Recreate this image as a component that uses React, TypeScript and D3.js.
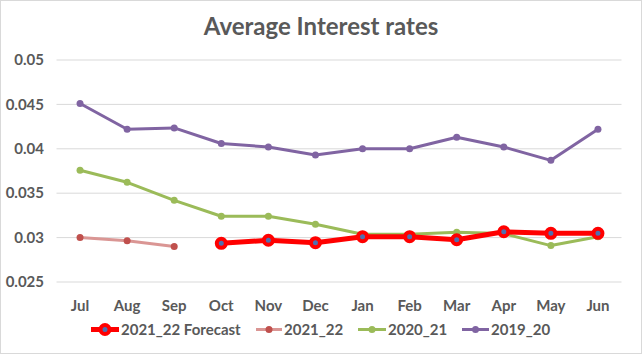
import React from "react";
import * as d3 from "d3";

const months = ["Jul", "Aug", "Sep", "Oct", "Nov", "Dec", "Jan", "Feb", "Mar", "Apr", "May", "Jun"];
const yTicks = [0.025, 0.03, 0.035, 0.04, 0.045, 0.05];

const forecast2122: (number | null)[] = [null, null, null, 0.02936, 0.0297, 0.02943, 0.0301, 0.0301, 0.02976, 0.03066, 0.03048, 0.03048];
const actual2122: (number | null)[] = [0.0300, 0.02965, 0.0290, null, null, null, null, null, null, null, null, null];
const s2021: (number | null)[] = [0.03758, 0.03623, 0.0342, 0.0324, 0.0324, 0.0315, 0.03037, 0.03037, 0.0306, 0.03045, 0.0291, 0.0301];
const s1920: (number | null)[] = [0.0451, 0.0422, 0.04235, 0.0406, 0.0402, 0.0393, 0.0400, 0.0400, 0.0413, 0.0402, 0.0387, 0.0422];

const W = 643, H = 355;
const font = "Lato, 'Open Sans', sans-serif";

export default function App() {
  const x = d3.scaleBand<string>().domain(months).range([56.5, 621.5]);
  const y = d3.scaleLinear().domain([0.025, 0.05]).range([282, 60]);
  const cx = (m: string) => (x(m) as number) + x.bandwidth() / 2;
  const line = d3.line<number | null>()
    .defined((d) => d !== null)
    .x((_, i) => cx(months[i]))
    .y((d) => y(d as number));

  const series = [
    { name: "2019_20", data: s1920, color: "#8064A2", width: 3, r: 3.5, fill: "#8064A2", stroke: "none", sw: 0 },
    { name: "2020_21", data: s2021, color: "#9BBB59", width: 3, r: 3.5, fill: "#9BBB59", stroke: "none", sw: 0 },
    { name: "2021_22", data: actual2122, color: "#DA9694", width: 3, r: 3.5, fill: "#C0504D", stroke: "none", sw: 0 },
    { name: "2021_22 Forecast", data: forecast2122, color: "#FF0000", width: 5, r: 4.5, fill: "#4F6FB0", stroke: "#FF0000", sw: 4 },
  ];

  const legend = [
    { s: series[3], x: 91, x2: 119, tx: 121 },
    { s: series[2], x: 256, x2: 282, tx: 284 },
    { s: series[1], x: 358, x2: 386, tx: 388 },
    { s: series[0], x: 462, x2: 489, tx: 491 },
  ];

  return (
    <svg width={W} height={H} style={{ position: "absolute", left: 0, top: 0 }} fontFamily={font}>
      <rect x={0.5} y={0.5} width={641} height={353} fill="#fff" stroke="#D9D9D9" />
      <text x={321} y={35} textAnchor="middle" fontSize={24} fill="#595959" fontWeight="bold">Average Interest rates</text>
      {yTicks.map((t) => (
        <g key={t}>
          <line x1={56.5} x2={621.5} y1={y(t)} y2={y(t)} stroke="#D9D9D9" strokeWidth={1} />
          <text x={44} y={y(t)} dy="0.35em" textAnchor="end" fontSize={15} fontWeight="bold" fill="#595959">{String(t)}</text>
        </g>
      ))}
      {months.map((m) => (
        <text key={m} x={cx(m)} y={306} dy="0.35em" textAnchor="middle" fontSize={15} fontWeight="bold" fill="#595959">{m}</text>
      ))}
      {series.map((s) => (
        <g key={s.name}>
          <path d={line(s.data) || ""} fill="none" stroke={s.color} strokeWidth={s.width} strokeLinejoin="round" />
          {s.data.map((v, i) => v === null ? null : (
            <circle key={i} cx={cx(months[i])} cy={y(v)} r={s.r} fill={s.fill} stroke={s.stroke} strokeWidth={s.sw} />
          ))}
        </g>
      ))}
      {legend.map(({ s, x: lx, x2, tx }) => (
        <g key={s.name}>
          <line x1={lx} x2={x2} y1={329.5} y2={329.5} stroke={s.color} strokeWidth={s.width} />
          <circle cx={(lx + x2) / 2} cy={329.5} r={s.r} fill={s.fill} stroke={s.stroke} strokeWidth={s.sw} />
          <text x={tx} y={329.5} dy="0.35em" fontSize={15} fontWeight="bold" fill="#595959">{s.name}</text>
        </g>
      ))}
    </svg>
  );
}
